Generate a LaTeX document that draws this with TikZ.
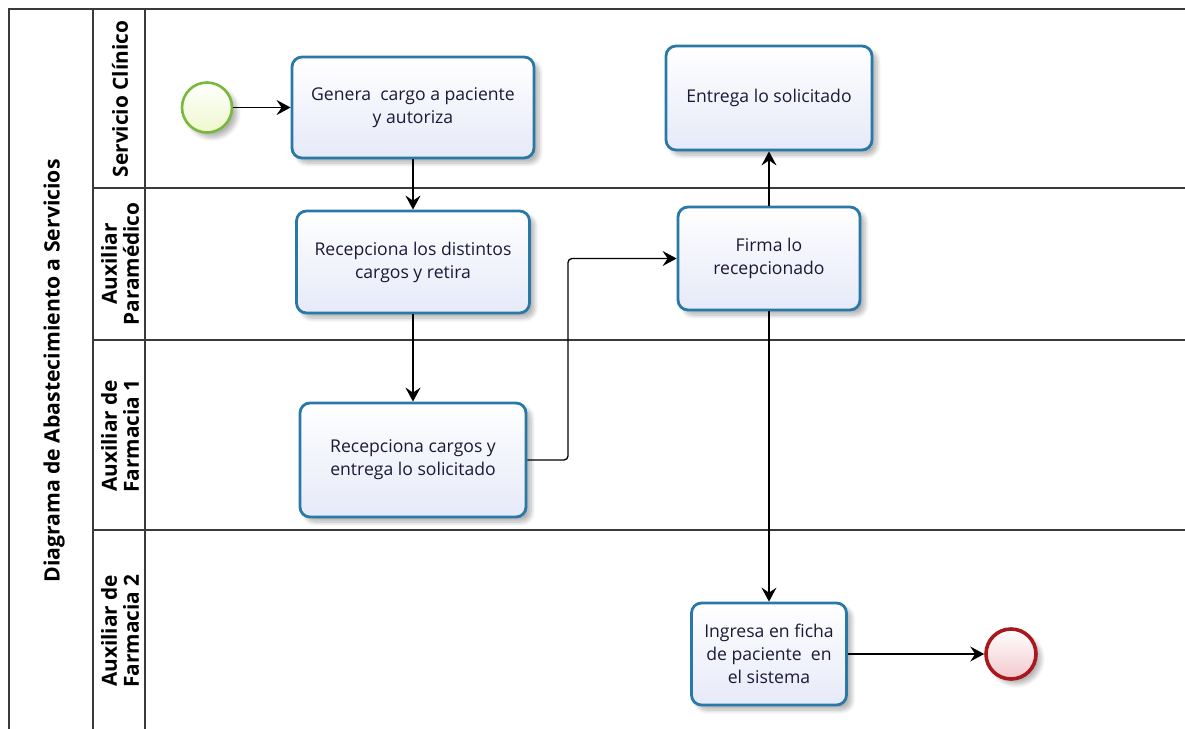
\documentclass[tikz,border=0pt]{standalone}
\usepackage{fontspec}
\setmainfont{Open Sans}
\usetikzlibrary{arrows.meta,shadows.blur}

\definecolor{taskborder}{HTML}{2878A8}
\definecolor{taskfill}{HTML}{E6E9F8}
\definecolor{tasktext}{HTML}{1A1A36}
\definecolor{startborder}{HTML}{78B83C}
\definecolor{startfill}{HTML}{EEF7CC}
\definecolor{endborder}{HTML}{A8181C}
\definecolor{endfill}{HTML}{F2C8CC}
\definecolor{frameline}{HTML}{3A3A3A}

\tikzset{
  task/.style={draw=taskborder, line width=1.4pt, rounded corners=5pt,
    top color=white, bottom color=taskfill, text=tasktext, align=center,
    font=\fontsize{8.8}{11.5}\selectfont, inner sep=2pt,
    blur shadow={shadow xshift=2.5pt, shadow yshift=-2.5pt, shadow blur steps=8, shadow opacity=30}},
  startev/.style={circle, draw=startborder, line width=1.3pt, inner sep=0pt,
    minimum size=25pt, top color=white, bottom color=startfill,
    blur shadow={shadow xshift=2.5pt, shadow yshift=-2.5pt, shadow blur steps=8, shadow opacity=30}},
  endev/.style={circle, draw=endborder, line width=1.8pt, inner sep=0pt,
    minimum size=25pt, top color=white, bottom color=endfill,
    blur shadow={shadow xshift=2.5pt, shadow yshift=-2.5pt, shadow blur steps=8, shadow opacity=30}},
  flow/.style={draw=black, line width=0.65pt, -{Stealth[length=7pt,width=7.5pt,inset=2.5pt]}},
  frame/.style={draw=frameline, line width=0.75pt},
  lanelabel/.style={rotate=90, align=center, font=\bfseries\fontsize{10.4}{11}\selectfont, text=black},
  pooltitle/.style={rotate=90, font=\bfseries\fontsize{10.6}{12}\selectfont, text=black}
}

\begin{document}
\begin{tikzpicture}[x=0.5pt, y=-0.5pt]
  \useasboundingbox (0,0) rectangle (1185,729);

  % pool and lane grid
  \draw[frame] (1185,9) -- (9,9) -- (9,729);
  \draw[frame] (93,9) -- (93,729);
  \draw[frame] (145,9) -- (145,729);
  \draw[frame] (93,188) -- (1185,188);
  \draw[frame] (93,340) -- (1185,340);
  \draw[frame] (93,530) -- (1185,530);

  % pool title and lane names
  \node[pooltitle] (pool) at (54,371) {Diagrama de Abastecimiento a Servicios};
  \node[lanelabel] (lane1) at (120,99) {Servicio Clínico};
  \node[lanelabel] (lane2) at (120,264) {Auxiliar\\Paramédico};
  \node[lanelabel] (lane3) at (120,436) {Auxiliar de\\Farmacia 1};
  \node[lanelabel] (lane4) at (120,631) {Auxiliar de\\Farmacia 2};

  % events
  \node[startev] (start) at (207,107.5) {};
  \node[endev] (end) at (1011,654) {};

  % tasks
  \node[task, minimum width=121pt, minimum height=50.5pt] (genera) at (413,107.5)
    {Genera\ \ cargo a paciente\\y autoriza};
  \node[task, minimum width=116.5pt, minimum height=51pt] (recep1) at (413,262)
    {Recepciona los distintos\\cargos y retira};
  \node[task, minimum width=113pt, minimum height=57pt] (recep2) at (413,460)
    {Recepciona cargos y\\entrega lo solicitado};
  \node[task, minimum width=91pt, minimum height=51.5pt] (firma) at (769,258.5)
    {Firma lo\\recepcionado};
  \node[task, minimum width=103pt, minimum height=52pt] (entrega) at (769,98)
    {Entrega lo solicitado};
  \node[task, minimum width=77.5pt, minimum height=51pt] (ingresa) at (769,654)
    {Ingresa en ficha\\de paciente\ \ en\\el sistema};

  % sequence flows
  \draw[flow] (start) -- (genera);
  \draw[flow] (genera) -- (recep1);
  \draw[flow] (recep1) -- (recep2);
  \coordinate (bend) at (568,460);
  \draw[flow, rounded corners=2pt] (recep2.east) -- (bend) |- (firma.west);
  \draw[flow] (firma) -- (entrega);
  \draw[flow] (firma) -- (ingresa);
  \draw[flow] (ingresa) -- (end);
\end{tikzpicture}
\end{document}
